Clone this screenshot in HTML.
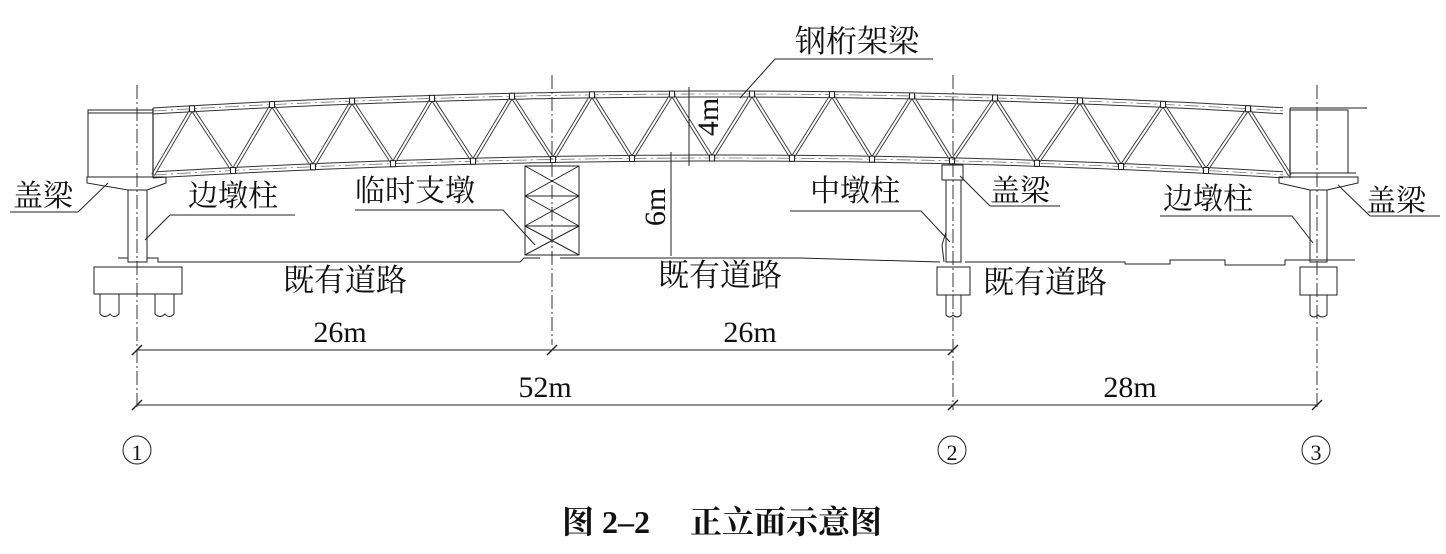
<!DOCTYPE html>
<html><head><meta charset="utf-8"><style>
body{margin:0;background:#fff;width:1446px;height:549px;overflow:hidden}
svg text{font-family:"Liberation Serif","Noto Serif CJK SC","Noto Sans CJK SC",serif;fill:#111}
</style></head><body>
<svg id="s" width="1446" height="549" viewBox="0 0 1446 549" xmlns="http://www.w3.org/2000/svg">
<g id="truss" fill="none" stroke="#222"></g>
<g fill="none" stroke="#222" stroke-width="1">
<g stroke-dasharray="14,3,2,3" stroke-width="0.9">
<line x1="137" y1="85" x2="137" y2="410"/>
<line x1="552" y1="75" x2="552" y2="345"/>
<line x1="953" y1="75" x2="953" y2="410"/>
<line x1="1317" y1="85" x2="1317" y2="410"/>
</g>
<rect x="88" y="110" width="65" height="67"/>
<line x1="88" y1="113" x2="153" y2="113"/>
<rect x="1290" y="110" width="58" height="63"/>
<line x1="1290" y1="108" x2="1367" y2="108"/>
<line x1="1290" y1="173" x2="1356" y2="173"/>
<path d="M87 177 H166 V183 L147 190 H128 L87 183 Z"/>
<rect x="128" y="190" width="19" height="72"/>
<rect x="94" y="267" width="88" height="27"/>
<path d="M100 294 V314 Q105 319 110 314 Q114 319 119 314 V294 M155 294 V314 Q160 319 165 314 Q169 319 174 314 V294"/>
<path d="M118 258 H128 M147 258 H158 V262 H520 L524 258 H540" />
<path d="M560 258 H800 L940 262 M965 262 H1125 V264 H1170 V260 H1225 V265 H1285 V260 H1355"/>
<rect x="525" y="166" width="54" height="89"/>
<line x1="525" y1="196" x2="579" y2="196"/><line x1="525" y1="226" x2="579" y2="226"/>
<path d="M525 166 L579 196 M579 166 L525 196 M525 196 L579 226 M579 196 L525 226 M525 226 L579 255 M579 226 L525 255"/>
<rect x="942" y="165" width="21" height="15"/>
<rect x="946" y="180" width="15" height="82"/>
<rect x="937" y="267" width="33" height="28"/>
<path d="M946 295 V315 Q950 319 953 315 Q957 319 961 315 V295"/>
<path d="M946 232 L942 245 L944 262"/>
<path d="M1279 177 H1358 V183 L1327 190 H1310 L1279 183 Z"/>
<rect x="1310" y="190" width="17" height="72"/>
<rect x="1300" y="267" width="37" height="28"/>
<path d="M1310 295 V315 Q1314 319 1318 315 Q1322 319 1327 315 V295"/>
<path d="M10 212 H78 L108 183"/>
<path d="M170 215 H295 M170 215 L145 240"/>
<path d="M355 210 H503 L535 245"/>
<path d="M790 211 H921 L950 242"/>
<path d="M990 206 H1060 M990 206 L960 176"/>
<path d="M1160 216 H1292 L1313 243"/>
<path d="M1370 216 H1440 M1370 216 L1338 185"/>
<path d="M933 59 H775 L740 98"/>
<line x1="689" y1="87" x2="689" y2="166"/>
<line x1="671" y1="152" x2="671" y2="256"/>
<line x1="137" y1="350" x2="953" y2="350"/>
<line x1="137" y1="405" x2="1317" y2="405"/>
<g stroke-width="1.4">
<line x1="132" y1="355" x2="142" y2="345"/><line x1="547" y1="355" x2="557" y2="345"/><line x1="948" y1="355" x2="958" y2="345"/>
<line x1="132" y1="410" x2="142" y2="400"/><line x1="948" y1="410" x2="958" y2="400"/><line x1="1312" y1="410" x2="1322" y2="400"/>
</g>
<circle cx="137" cy="450" r="14"/><circle cx="952" cy="450" r="14"/><circle cx="1316" cy="450" r="14"/>
</g>
<g font-size="30">
<text x="13" y="206">盖梁</text>
<text x="188" y="206">边墩柱</text>
<text x="355" y="201">临时支墩</text>
<text x="810" y="201">中墩柱</text>
<text x="990" y="201">盖梁</text>
<text x="1163" y="209">边墩柱</text>
<text x="1366" y="211">盖梁</text>
<text x="795" y="52" font-size="31">钢桁架梁</text>
<text x="283" y="291" font-size="31">既有道路</text>
<text x="658" y="286" font-size="31">既有道路</text>
<text x="983" y="293" font-size="31">既有道路</text>
<text x="340" y="342" text-anchor="middle">26m</text>
<text x="750" y="342" text-anchor="middle">26m</text>
<text x="545" y="397" text-anchor="middle">52m</text>
<text x="1130" y="397" text-anchor="middle">28m</text>
<text x="0" y="0" text-anchor="middle" transform="translate(718,117) rotate(-90)">4m</text>
<text x="0" y="0" text-anchor="middle" transform="translate(665,207) rotate(-90)">6m</text>
<text x="137" y="460" text-anchor="middle" font-size="22">1</text>
<text x="952" y="460" text-anchor="middle" font-size="22">2</text>
<text x="1316" y="460" text-anchor="middle" font-size="22">3</text>
<text x="722" y="533" text-anchor="middle" font-size="32" font-weight="bold">图 2–2　 正立面示意图</text>
</g>
</svg>
<script>
(function(){
var g=document.getElementById('truss'),ns='http://www.w3.org/2000/svg';
function yt(x){return 94+5.29e-5*(x-720)*(x-720);}
function yb(x){return 158+5.29e-5*(x-720)*(x-720);}
function ln(x1,y1,x2,y2,w,c,d){var l=document.createElementNS(ns,'line');l.setAttribute('x1',x1);l.setAttribute('y1',y1);l.setAttribute('x2',x2);l.setAttribute('y2',y2);l.setAttribute('stroke',c||'#333');l.setAttribute('stroke-width',w||1);if(d)l.setAttribute('stroke-dasharray',d);g.appendChild(l);}
function chord(f,off){var p='';for(var x=153;x<=1290;x+=10){p+=(x==153?'M':'L')+x+' '+(f(x)+off).toFixed(1);}var e=document.createElementNS(ns,'path');e.setAttribute('d',p);e.setAttribute('stroke','#333');e.setAttribute('stroke-width','1');e.setAttribute('fill','none');g.appendChild(e);}
chord(yt,-3);chord(yt,3);chord(yb,-3);chord(yb,3);
var p1='',p2='';for(var x=153;x<=1290;x+=10){p1+=(x==153?'M':'L')+x+' '+yt(x).toFixed(1);p2+=(x==153?'M':'L')+x+' '+yb(x).toFixed(1);}
[p1,p2].forEach(function(p){var e=document.createElementNS(ns,'path');e.setAttribute('d',p);e.setAttribute('stroke','#777');e.setAttribute('stroke-width','0.8');e.setAttribute('stroke-dasharray','14,4,2,4');e.setAttribute('fill','none');g.appendChild(e);});
var T=[192,272,352,432,512,592,672,752,832,912,995,1080,1163,1248];
var B=[233,313,393,473,553,632,712,792,872,952,1037,1121,1206];
var pts=[[153,yb(153)]];
for(var i=0;i<T.length;i++){pts.push([T[i],yt(T[i])]);if(i<B.length)pts.push([B[i],yb(B[i])]);}
pts.push([1290,yb(1290)]);
for(var k=0;k<pts.length-1;k++){ln(pts[k][0],pts[k][1],pts[k+1][0],pts[k+1][1],4,'#444');ln(pts[k][0],pts[k][1],pts[k+1][0],pts[k+1][1],2,'#fff');}
ln(153,yt(153)-3,153,yb(153)+3,1.2);ln(1290,yt(1290)-3,1290,yb(1290)+3,1.2);
T.concat(B).forEach(function(x,i){var y=i<T.length?yt(x):yb(x);var r=document.createElementNS(ns,'rect');r.setAttribute('x',x-2.5);r.setAttribute('y',y-3);r.setAttribute('width',5);r.setAttribute('height',6);r.setAttribute('fill','#fff');r.setAttribute('stroke','#222');g.appendChild(r);});
})();
</script>
</body></html>
